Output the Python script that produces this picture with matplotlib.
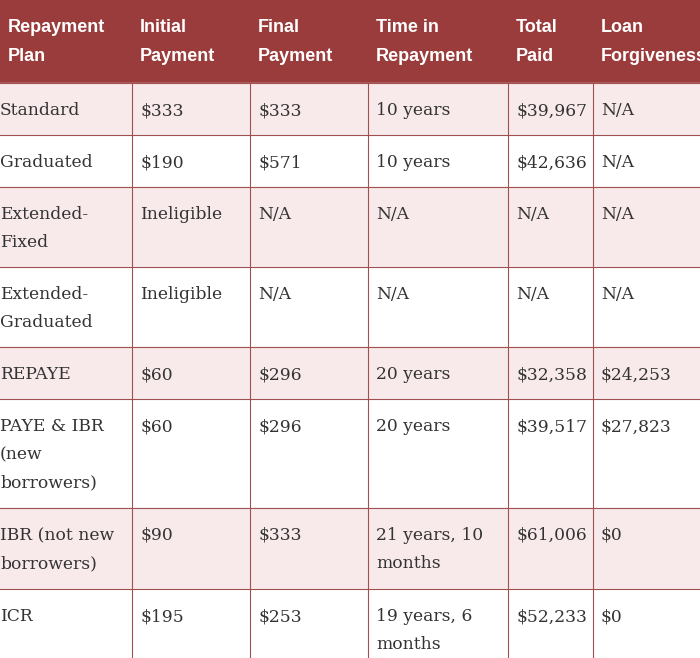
import matplotlib.pyplot as plt
from matplotlib.patches import Rectangle

headers = ["Repayment\nPlan", "Initial\nPayment", "Final\nPayment",
           "Time in\nRepayment", "Total\nPaid", "Loan\nForgiveness"]
plans = ["Standard", "Graduated", "Extended-\nFixed", "Extended-\nGraduated",
         "REPAYE", "PAYE & IBR\n(new\nborrowers)", "IBR (not new\nborrowers)", "ICR"]
initial = ["$333", "$190", "Ineligible", "Ineligible", "$60", "$60", "$90", "$195"]
final = ["$333", "$571", "N/A", "N/A", "$296", "$296", "$333", "$253"]
time_in = ["10 years", "10 years", "N/A", "N/A", "20 years", "20 years",
           "21 years, 10\nmonths", "19 years, 6\nmonths"]
total = ["$39,967", "$42,636", "N/A", "N/A", "$32,358", "$39,517", "$61,006", "$52,233"]
forgiven = ["N/A", "N/A", "N/A", "N/A", "$24,253", "$27,823", "$0", "$0"]

col_edges = [0, 132, 250, 368, 508, 593, 700]
row_edges = [0, 83, 135, 187, 267, 347, 399, 508, 589, 670]

head_bg = "#9b3c3c"
pink = "#f8e9ea"
line = "#a05050"

fig = plt.figure(figsize=(7, 6.58), dpi=100)
ax = fig.add_axes([0, 0, 1, 1])
ax.set_xlim(0, 700)
ax.set_ylim(658, 0)
ax.axis("off")

ax.add_patch(Rectangle((0, 0), 700, row_edges[1], color=head_bg, zorder=0))
for i, h in enumerate(headers):
    ax.text(col_edges[i] + 8, 19, h, color="white", fontsize=13, fontweight="bold",
            family="Liberation Sans", va="top", linespacing=1.95, clip_on=True)

columns = [plans, initial, final, time_in, total, forgiven]
for r in range(len(plans)):
    top, bot = row_edges[r + 1], row_edges[r + 2]
    color = pink if r % 2 == 0 else "white"
    ax.add_patch(Rectangle((0, top), 700, bot - top, color=color, zorder=0))
    ax.axhline(top, color=line, lw=0.8, zorder=1)
    for c, col in enumerate(columns):
        ax.text(col_edges[c] + (0 if c == 0 else 8), top + 19, col[r], fontsize=12.3,
                family="DejaVu Serif", color="#333333", va="top", linespacing=1.85,
                clip_on=True)
for x in col_edges[1:-1]:
    ax.plot([x, x], [row_edges[1], 658], color=line, lw=0.8, zorder=1)

fig.savefig("out.png", dpi=100)
